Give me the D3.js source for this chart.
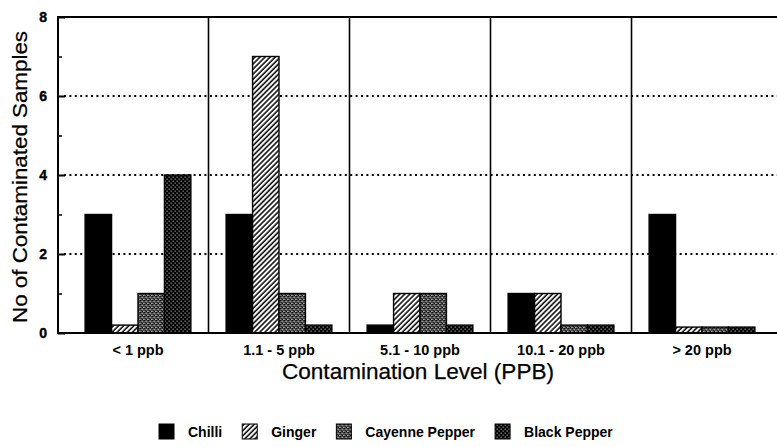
<!DOCTYPE html>
<html>
<head>
<meta charset="utf-8">
<script src="https://cdn.jsdelivr.net/npm/d3@7/dist/d3.min.js"></script>
<style>
  html, body { margin: 0; padding: 0; background: #fff; }
  svg { display: block; }
  text { font-family: "Liberation Sans", Arial, Helvetica, sans-serif; fill: #000; }
</style>
</head>
<body>
<svg id="chart" width="777" height="447"></svg>
<script>
// ---- data ----
const groups = ["< 1 ppb", "1.1 - 5 ppb", "5.1 - 10 ppb", "10.1 - 20 ppb", "> 20 ppb"];
const seriesNames = ["Chilli", "Ginger", "Cayenne Pepper", "Black Pepper"];
const chilli      = [3, 3, 0.2, 1, 3];
const ginger      = [0.2, 7, 1, 1, 0.15];
const cayenne     = [1, 1, 1, 0.2, 0.15];
const blackPepper = [4, 0.2, 0.2, 0.2, 0.15];
const yMajorTicks = [0, 2, 4, 6, 8];
const yMinorTicks = [1, 3, 5, 7];
const gridTicks   = [2, 4, 6];
const xTitle = "Contamination Level (PPB)";
const yTitle = "No of Contaminated Samples";

const seriesValues = [chilli, ginger, cayenne, blackPepper];

// ---- layout ----
const svg = d3.select("#chart");
const plotLeft = 58, plotRight = 777, plotTop = 17, plotBottom = 333;

const defs = svg.append("defs");
// Ginger: diagonal hatch
const pg = defs.append("pattern").attr("id", "pGinger").attr("patternUnits", "userSpaceOnUse")
  .attr("width", 3.6).attr("height", 3.6).attr("patternTransform", "rotate(45)");
pg.append("rect").attr("width", 3.6).attr("height", 3.6).attr("fill", "#fff");
pg.append("line").attr("x1", 1).attr("y1", 0).attr("x2", 1).attr("y2", 3.6)
  .attr("stroke", "#000").attr("stroke-width", 1.5);
// Cayenne: dark grey stipple
const pc = defs.append("pattern").attr("id", "pCayenne").attr("patternUnits", "userSpaceOnUse")
  .attr("width", 4).attr("height", 4);
pc.append("rect").attr("width", 4).attr("height", 4).attr("fill", "#4a4a4a");
[[0,0,"#111"],[2,1,"#999"],[1,2,"#222"],[3,3,"#aaa"],[3,0,"#333"],[0,3,"#888"],[2,3,"#111"],[1,1,"#777"]]
  .forEach(([x, y, c]) => pc.append("rect").attr("x", x).attr("y", y).attr("width", 1).attr("height", 1).attr("fill", c));
// Black pepper: black with white dots
const pb = defs.append("pattern").attr("id", "pBlack").attr("patternUnits", "userSpaceOnUse")
  .attr("width", 4).attr("height", 4);
pb.append("rect").attr("width", 4).attr("height", 4).attr("fill", "#000");
pb.append("rect").attr("x", 0.6).attr("y", 0.6).attr("width", 1).attr("height", 1).attr("fill", "#eee");
pb.append("rect").attr("x", 2.6).attr("y", 2.6).attr("width", 1).attr("height", 1).attr("fill", "#eee");

const fills = ["#000", "url(#pGinger)", "url(#pCayenne)", "url(#pBlack)"];

const x0 = d3.scaleBand().domain(groups).range([67.5, 772.5]).paddingInner(0.25).paddingOuter(0.125);
const x1 = d3.scaleBand().domain(seriesNames).range([0, x0.bandwidth()]);
const y = d3.scaleLinear().domain([0, 8]).range([plotBottom, plotTop]);

// dotted grid lines
svg.append("g").selectAll("line").data(gridTicks).join("line")
  .attr("x1", plotLeft + 6).attr("x2", plotRight)
  .attr("y1", d => y(d)).attr("y2", d => y(d))
  .attr("stroke", "#000").attr("stroke-width", 2).attr("stroke-dasharray", "2,3.4");

// group separators
const step = x0.step();
svg.append("g").selectAll("line").data(groups.slice(0, -1)).join("line")
  .attr("x1", d => x0(d) + x0.bandwidth() / 2 + step / 2)
  .attr("x2", d => x0(d) + x0.bandwidth() / 2 + step / 2)
  .attr("y1", plotTop).attr("y2", plotBottom)
  .attr("stroke", "#000").attr("stroke-width", 1.6);

// bars
const barData = [];
groups.forEach((g, gi) => seriesNames.forEach((s, si) => barData.push({ g, s, si, v: seriesValues[si][gi] })));
svg.append("g").selectAll("rect").data(barData).join("rect")
  .attr("x", d => x0(d.g) + x1(d.s))
  .attr("y", d => y(d.v))
  .attr("width", x1.bandwidth())
  .attr("height", d => y(0) - y(d.v))
  .attr("fill", d => fills[d.si])
  .attr("stroke", "#000").attr("stroke-width", 1.4);

// frame: left, top, bottom
svg.append("line").attr("x1", plotLeft).attr("x2", plotLeft).attr("y1", plotTop - 1).attr("y2", plotBottom + 1)
  .attr("stroke", "#000").attr("stroke-width", 2);
svg.append("line").attr("x1", plotLeft).attr("x2", plotRight).attr("y1", plotTop).attr("y2", plotTop)
  .attr("stroke", "#000").attr("stroke-width", 2);
svg.append("line").attr("x1", plotLeft).attr("x2", plotRight).attr("y1", plotBottom).attr("y2", plotBottom)
  .attr("stroke", "#000").attr("stroke-width", 2.2);

// y axis (ticks inward)
const yAxis = d3.axisRight(y).tickValues(yMajorTicks).tickSize(7).tickFormat("");
const ya = svg.append("g").attr("transform", `translate(${plotLeft},0)`).call(yAxis);
ya.select(".domain").remove();
ya.selectAll(".tick line").attr("stroke-width", 2);
const yMinor = d3.axisRight(y).tickValues(yMinorTicks).tickSize(4).tickFormat("");
const ym = svg.append("g").attr("transform", `translate(${plotLeft},0)`).call(yMinor);
ym.select(".domain").remove();
ym.selectAll(".tick line").attr("stroke-width", 1.5);

svg.append("g").selectAll("text").data(yMajorTicks).join("text")
  .attr("x", 47).attr("y", d => y(d)).attr("dy", "0.36em")
  .attr("text-anchor", "end").attr("font-weight", "bold").attr("font-size", 14)
  .attr("stroke", "#000").attr("stroke-width", 0.4)
  .text(d => d);

// x tick labels
svg.append("g").selectAll("text").data(groups).join("text")
  .attr("x", d => x0(d) + x0.bandwidth() / 2).attr("y", 355)
  .attr("text-anchor", "middle").attr("font-weight", "bold").attr("font-size", 14.5)
  .text(d => d);

// axis titles
svg.append("text").attr("x", 418).attr("y", 379).attr("text-anchor", "middle")
  .attr("font-size", 22).attr("textLength", 272).attr("lengthAdjust", "spacingAndGlyphs")
  .attr("stroke", "#000").attr("stroke-width", 0.25)
  .text(xTitle);
svg.append("text").attr("transform", "translate(27,177) rotate(-90)").attr("text-anchor", "middle")
  .attr("font-size", 21).attr("textLength", 292).attr("lengthAdjust", "spacingAndGlyphs")
  .attr("stroke", "#000").attr("stroke-width", 0.25)
  .text(yTitle);

// legend
const legend = svg.append("g");
let lx = 159;
const ly = 424, box = 15;
seriesNames.forEach((s, i) => {
  legend.append("rect").attr("x", lx).attr("y", ly).attr("width", box).attr("height", box)
    .attr("fill", fills[i]).attr("stroke", "#000").attr("stroke-width", 1);
  const t = legend.append("text").attr("x", lx + box + 14).attr("y", ly + 13)
    .attr("font-weight", "bold").attr("font-size", 14).text(s);
  lx = lx + box + 14 + t.node().getComputedTextLength() + 20;
});
</script>
</body>
</html>
